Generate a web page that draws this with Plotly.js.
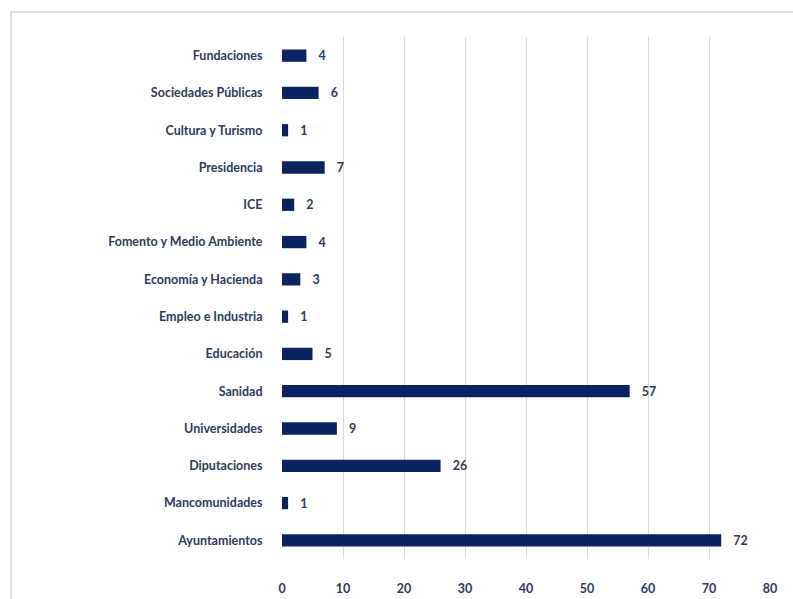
<!DOCTYPE html>
<html>
<head>
<meta charset="utf-8">
<script src="https://cdn.plot.ly/plotly-3.0.1.min.js"></script>
<style>html,body{margin:0;padding:0;background:#fff;}#chart{width:793px;height:599px;}</style>
</head>
<body>
<div id="chart"></div>
<script>
const categories = ["Ayuntamientos","Mancomunidades","Diputaciones","Universidades","Sanidad","Educación","Empleo e Industria","Economía y Hacienda","Fomento y Medio Ambiente","ICE","Presidencia","Cultura y Turismo","Sociedades Públicas","Fundaciones"];
const values = [72,1,26,9,57,5,1,3,4,2,7,1,6,4];
const tickValues = [0,10,20,30,40,50,60,70,80];

const W = 793, H = 599;
const m = {l:282, r:23, t:37, b:40};
const pw = W - m.l - m.r, ph = H - m.t - m.b;
const px = x => (x - m.l) / pw;
const py = y => 1 - (y - m.t) / ph;

const textColor = '#2e3a5c';
const fnt = {family: 'Lato', size: 12.5, color: textColor, weight: 'bold'};
const trace = {
  type: 'bar',
  orientation: 'h',
  y: categories,
  x: values,
  width: 0.33,
  marker: {color: '#0b2461'},
  text: values.map(v => '   ' + v),
  textposition: 'outside',
  constraintext: 'none',
  cliponaxis: false,
  textfont: fnt,
  hoverinfo: 'none'
};

const layout = {
  width: W, height: H,
  margin: m,
  paper_bgcolor: '#fff',
  plot_bgcolor: '#fff',
  showlegend: false,
  font: fnt,
  xaxis: {
    range: [0, 80],
    tickvals: tickValues,
    ticktext: tickValues.map(String),
    showgrid: true,
    gridcolor: '#d9d9d9',
    gridwidth: 1,
    zeroline: false,
    showline: false,
    ticks: 'outside',
    ticklen: 18,
    tickcolor: 'rgba(0,0,0,0)',
    tickfont: fnt,
    fixedrange: true
  },
  yaxis: {
    type: 'category',
    showgrid: false,
    zeroline: false,
    showline: false,
    ticks: 'outside',
    ticklen: 16,
    tickcolor: 'rgba(0,0,0,0)',
    tickfont: fnt,
    fixedrange: true
  },
  shapes: [{
    type: 'rect', xref: 'paper', yref: 'paper', layer: 'below',
    x0: px(11), x1: px(W + 20), y0: py(H + 20), y1: py(12),
    line: {color: '#dedede', width: 2}, fillcolor: 'rgba(0,0,0,0)'
  }]
};

Plotly.newPlot('chart', [trace], layout, {displayModeBar: false, staticPlot: true});
</script>
</body>
</html>
